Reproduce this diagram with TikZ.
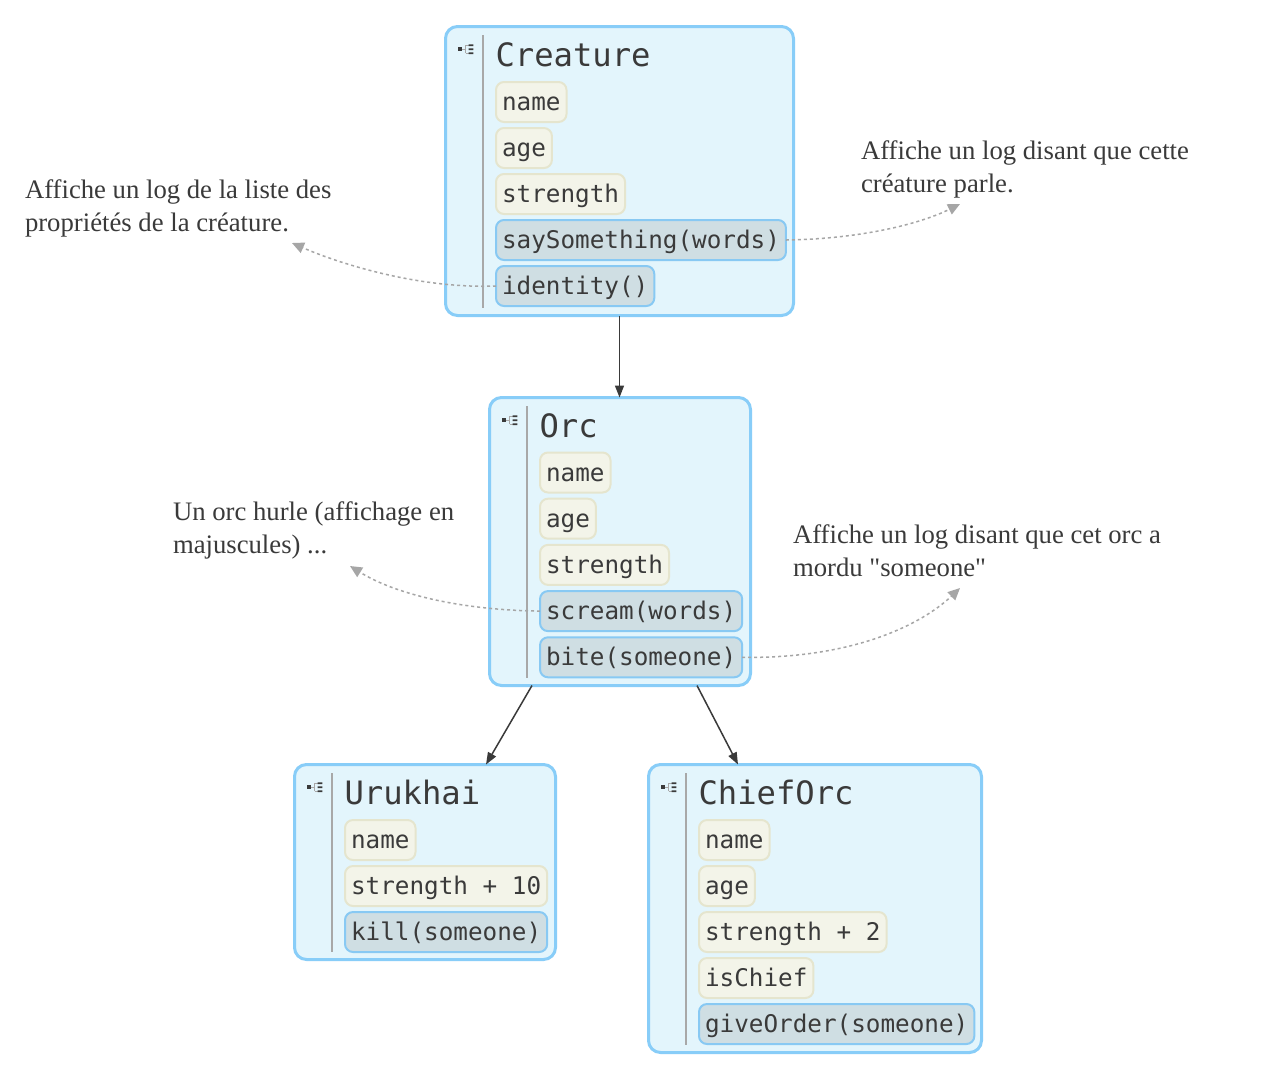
\documentclass[tikz,border=0pt]{standalone}
\usepackage{fontspec}
\setmainfont{Liberation Serif}[Ligatures=TeXOff]
\newfontfamily\codefont{DejaVu Sans Mono}
\usetikzlibrary{arrows.meta,calc}
\definecolor{boxfill}{HTML}{E3F5FC}
\definecolor{boxline}{HTML}{88CDF8}
\definecolor{propfill}{HTML}{F3F4E9}
\definecolor{propline}{HTML}{E5E5CE}
\definecolor{methfill}{HTML}{CFDEE3}
\definecolor{methline}{HTML}{88C9F3}
\definecolor{ink}{HTML}{3A3A3A}
\definecolor{sepgray}{HTML}{A8A8A8}
\definecolor{notegray}{HTML}{A6A6A6}
\begin{document}
\begin{tikzpicture}[x=1pt,y=-1pt,
 classbox/.style={draw=boxline, fill=boxfill, line width=3pt, rounded corners=12pt, anchor=north west, inner sep=0pt, outer sep=0pt},
 item/.style={anchor=north west, rounded corners=8pt, line width=2pt, minimum height=40pt, inner xsep=6pt, inner ysep=0pt, outer sep=0pt, text height=21pt, text depth=4pt, font=\codefont\fontsize{24.3}{28}\selectfont, text=ink},
 prop/.style={item, draw=propline, fill=propfill},
 meth/.style={item, draw=methline, fill=methfill},
 title/.style={anchor=base west, inner sep=0pt, outer sep=0pt, font=\codefont\fontsize{32.2}{36}\selectfont, text=ink},
 sepline/.style={draw=sepgray, line width=1.5pt},
 conn/.style={draw=ink, line width=1.5pt, -{Triangle[length=12pt,width=9pt]}},
 note/.style={anchor=north west, inner sep=0pt, outer sep=0pt, align=left, font=\fontsize{26.7}{32.5}\selectfont, text=ink},
 noteline/.style={draw=notegray, line width=1.5pt, dash pattern=on 3pt off 3pt, -{Triangle[length=12pt,width=11pt]}},
 classicon/.pic={
   \fill[ink] (14.3,22.3) rectangle (18.3,26.3);
   \draw[sepgray, line width=0.7pt] (18.3,24.3) -- (21.7,24.3) (21.7,20.2) -- (21.7,28.2)
     (21.7,20.2) -- (24.7,20.2) (21.7,28.2) -- (24.7,28.2);
   \fill[ink] (24.7,19.3) rectangle (29.3,21) (24.7,23.3) rectangle (29.3,25) (24.7,27.3) rectangle (29.3,29);
 },
]
\fill[white] (0,0) rectangle (1281,1080);
\useasboundingbox (0,0) rectangle (1281,1080);

% ---------- class boxes ----------
\node[classbox, minimum width=348pt, minimum height=289pt] (creature) at (445.5,26.5) {};
\node[classbox, minimum width=261pt, minimum height=288pt] (orc) at (489.5,397.5) {};
\node[classbox, minimum width=261pt, minimum height=195pt] (uruk) at (294.5,764.5) {};
\node[classbox, minimum width=333pt, minimum height=288pt] (chief) at (648.5,764.5) {};

% separators, icons, titles
\foreach \b/\t in {creature/Creature, orc/Orc, uruk/Urukhai, chief/ChiefOrc}{
  \draw[sepline] ($(\b.north west)+(37.5,8.5)$) -- ($(\b.south west)+(37.5,-7.5)$);
  \pic at ($(\b.north west)+(-1.5,-1.5)$) {classicon};
  \node[title] (\b title) at ($(\b.north west)+(50,39.5)$) {\t};
}

% ---------- members ----------
\node[prop] (cname) at ($(creature.north west)+(50.5,55.5)$) {name};
\node[prop] (cage)  at ($(cname.north west)+(0,46)$) {age};
\node[prop] (cstr)  at ($(cage.north west)+(0,46)$) {strength};
\node[meth] (csay)  at ($(cstr.north west)+(0,46)$) {saySomething(words)};
\node[meth] (cid)   at ($(csay.north west)+(0,46)$) {identity()};

\node[prop] (oname) at ($(orc.north west)+(50.5,55)$) {name};
\node[prop] (oage)  at ($(oname.north west)+(0,46.2)$) {age};
\node[prop] (ostr)  at ($(oage.north west)+(0,46.2)$) {strength};
\node[meth] (oscr)  at ($(ostr.north west)+(0,46.2)$) {scream(words)};
\node[meth] (obite) at ($(oscr.north west)+(0,46.2)$) {bite(someone)};

\node[prop] (uname) at ($(uruk.north west)+(50.5,55.5)$) {name};
\node[prop] (ustr)  at ($(uname.north west)+(0,46)$) {strength + 10};
\node[meth] (ukill) at ($(ustr.north west)+(0,46)$) {kill(someone)};

\node[prop] (hname) at ($(chief.north west)+(50.5,55.5)$) {name};
\node[prop] (hage)  at ($(hname.north west)+(0,46)$) {age};
\node[prop] (hstr)  at ($(hage.north west)+(0,46)$) {strength + 2};
\node[prop] (hchief) at ($(hstr.north west)+(0,46)$) {isChief};
\node[meth] (horder) at ($(hchief.north west)+(0,46)$) {giveOrder(someone)};

% ---------- inheritance connectors ----------
\draw[conn] (creature.south) -- (orc.north -| creature.south);
\draw[conn] ($(orc.south west)+(42.5,0)$) -- ($(uruk.north west)+(191.5,0)$);
\draw[conn] ($(orc.south west)+(207.5,0)$) -- ($(chief.north west)+(89.5,0)$);

% ---------- notes ----------
\node[note] (n1) at (25,180) {Affiche un log de la liste des\\propriétés de la créature.};
\node[note] (n2) at (861,141) {Affiche un log disant que cette\\créature parle.};
\node[note] (n3) at (173,502) {Un orc hurle (affichage en\\majuscules) ...};
\node[note] (n4) at (793,525) {Affiche un log disant que cet orc a\\mordu "someone"};

\coordinate (t1) at (292,243);
\coordinate (t2) at (960,204);
\coordinate (t3) at (350,566);
\coordinate (t4) at (960,588);

\draw[noteline] (cid.west) .. controls (420,289) and (340,264) .. (t1);
\draw[noteline] (csay.east) .. controls (860,239) and (920,224) .. (t2);
\draw[noteline] (oscr.west) .. controls (460,610) and (395,594) .. (t3);
\draw[noteline] (obite.east) .. controls (850,659) and (920,626) .. (t4);
\end{tikzpicture}
\end{document}
